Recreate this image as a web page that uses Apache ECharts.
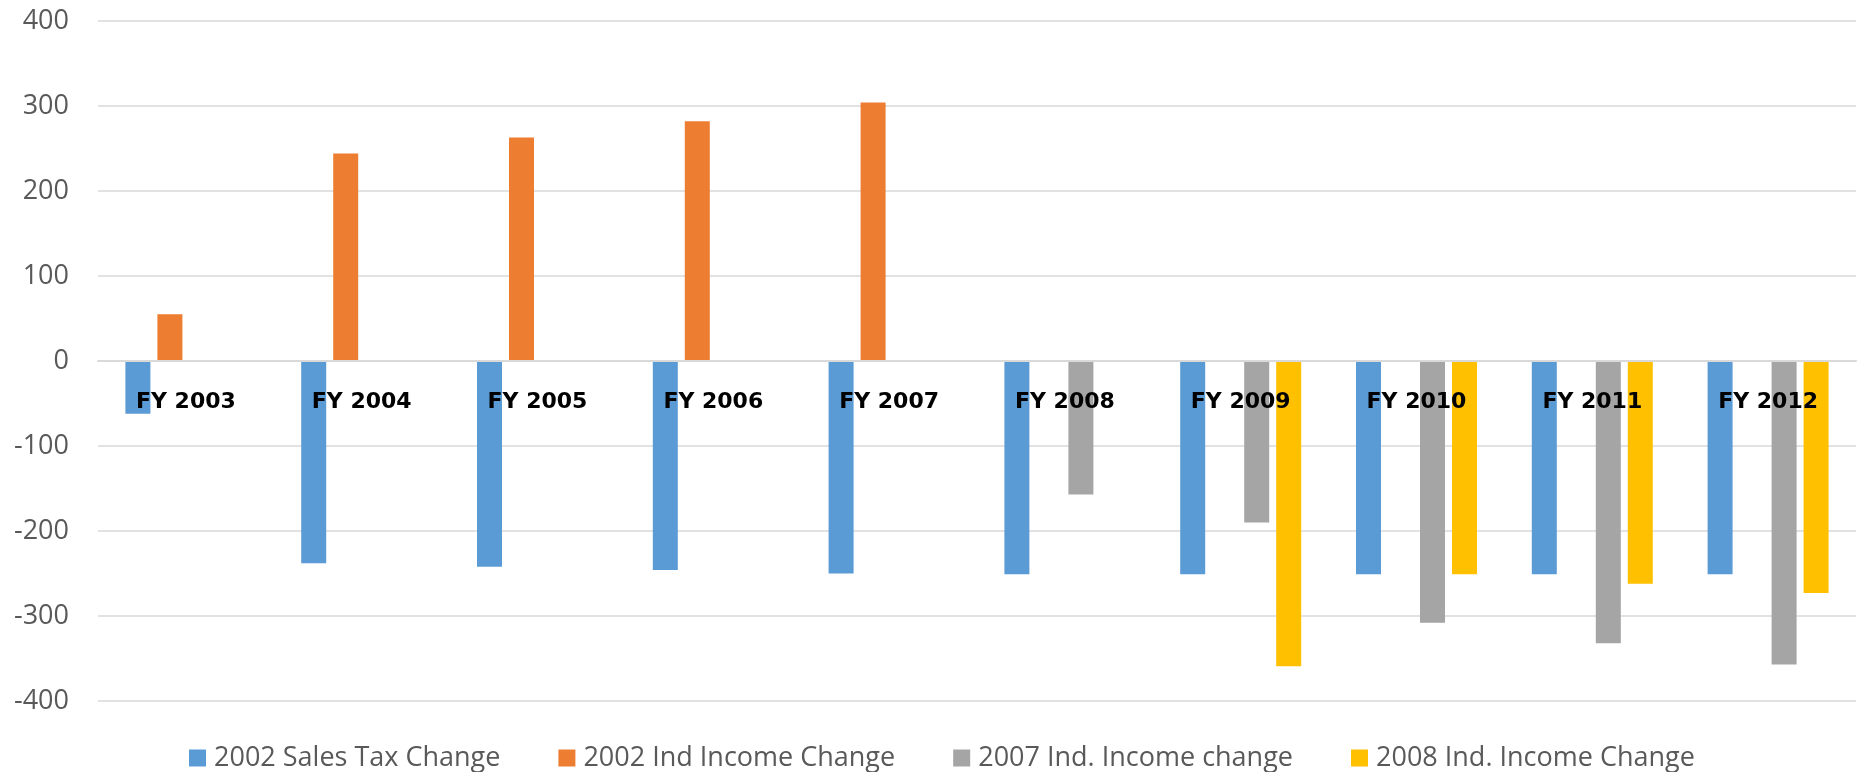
<!DOCTYPE html>
<html>
<head>
<meta charset="utf-8">
<script src="https://cdn.jsdelivr.net/npm/echarts@6/dist/echarts.min.js"></script>
<style>html,body{margin:0;padding:0;background:#fff;}#c{width:1862px;height:772px;}</style>
</head>
<body>
<div id="c"></div>
<script>
const categories = ['FY 2003','FY 2004','FY 2005','FY 2006','FY 2007','FY 2008','FY 2009','FY 2010','FY 2011','FY 2012'];
const salesTax2002 = [-62, -238, -242, -246, -250, -251, -251, -251, -251, -251];
const indIncome2002 = [55, 244, 263, 282, 304, null, null, null, null, null];
const indIncome2007 = [null, null, null, null, null, -157, -190, -308, -332, -357];
const indIncome2008 = [null, null, null, null, null, null, -359, -251, -262, -273];
const yTicks = [-400, -300, -200, -100, 0, 100, 200, 300, 400];

const seriesDefs = [
  {name: '2002 Sales Tax Change', data: salesTax2002, color: '#5B9BD5'},
  {name: '2002 Ind Income Change', data: indIncome2002, color: '#ED7D31'},
  {name: '2007 Ind. Income change', data: indIncome2007, color: '#A5A5A5'},
  {name: '2008 Ind. Income Change', data: indIncome2008, color: '#FFC000'}
];

const gridTop = 21, gridBottom = 71, chartH = 772;
const yMin = yTicks[0], yMax = yTicks[yTicks.length - 1];
// move the category axis up to the zero value line (labels follow it)
const plotH = chartH - gridTop - gridBottom;
const zeroOffset = -plotH * (0 - yMin) / (yMax - yMin);

const chart = echarts.init(document.getElementById('c'));
chart.setOption({
  animation: false,
  backgroundColor: '#ffffff',
  grid: {left: 98, right: 6, top: gridTop, bottom: gridBottom, containLabel: false},
  legend: {
    top: 736,
    left: 184,
    itemWidth: 17,
    itemHeight: 17,
    itemGap: 58,
    icon: 'rect',
    textStyle: {fontFamily: 'Open Sans', fontSize: 27, lineHeight: 34, color: '#595959', padding: [0, 0, 0, 3]},
    data: seriesDefs.map(s => s.name)
  },
  xAxis: {
    type: 'category',
    data: categories,
    z: 10,
    offset: zeroOffset,
    axisLine: {onZero: false, lineStyle: {color: '#d9d9d9', width: 2}},
    axisTick: {show: false},
    axisLabel: {fontFamily: 'DejaVu Sans', fontWeight: 'bold', fontSize: 22, color: '#000', margin: 30},
    splitLine: {show: false}
  },
  yAxis: {
    type: 'value',
    min: yMin,
    max: yMax,
    interval: 100,
    axisLine: {show: false},
    axisTick: {show: false},
    axisLabel: {fontFamily: 'Open Sans', fontSize: 27, color: '#595959', margin: 29},
    splitLine: {lineStyle: {color: '#d9d9d9', width: 1.5}}
  },
  series: seriesDefs.map(s => ({
    name: s.name,
    type: 'bar',
    data: s.data,
    barWidth: 25,
    barGap: '28%',
    itemStyle: {color: s.color}
  }))
});
</script>
</body>
</html>
